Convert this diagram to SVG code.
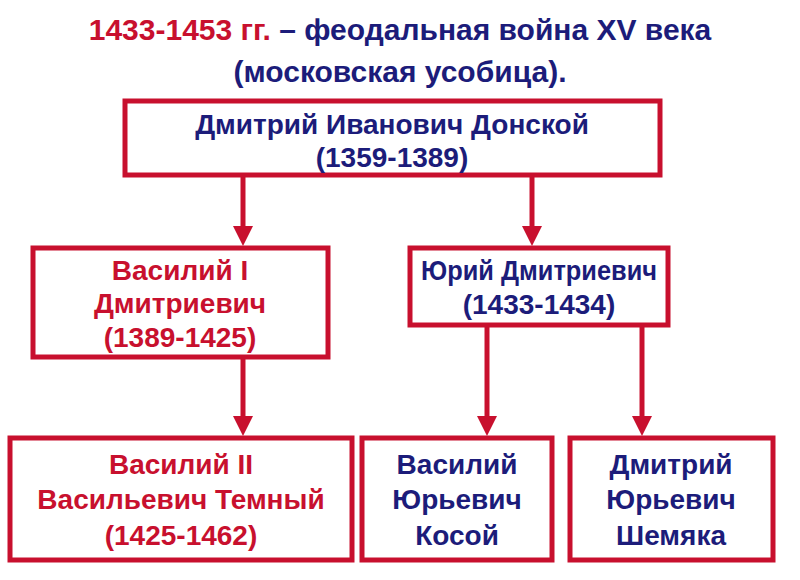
<svg xmlns="http://www.w3.org/2000/svg" width="800" height="580" viewBox="0 0 800 580">
<style>
.b{fill:#fff;stroke:#c8102e;stroke-width:5}
text{font-family:"Liberation Sans",Arial,sans-serif;font-weight:bold;text-anchor:middle}
.t{font-size:30px}
.n{font-size:28px}
.r{fill:#c8102e}
.u{fill:#1c1c7a}
.c{stroke:#c8102e;stroke-width:5;fill:none}
.h{fill:#c8102e}
</style>
<rect width="800" height="580" fill="#fff"/>
<g id="title"><text class="t" x="400" y="40"><tspan class="r">1433-1453 гг.</tspan><tspan class="u"> – феодальная война XV века</tspan></text>
<text class="t u" x="400" y="82">(московская усобица).</text></g>
<g id="connectors">
<line class="c" x1="243" y1="176" x2="243" y2="228"/><polygon class="h" points="233,226 253,226 243,246"/>
<line class="c" x1="532" y1="176" x2="532" y2="228"/><polygon class="h" points="522,226 542,226 532,246"/>
<line class="c" x1="243" y1="358" x2="243" y2="418"/><polygon class="h" points="233,416 253,416 243,436"/>
<line class="c" x1="487" y1="326" x2="487" y2="418"/><polygon class="h" points="477,416 497,416 487,436"/>
<line class="c" x1="642" y1="326" x2="642" y2="418"/><polygon class="h" points="632,416 652,416 642,436"/>
</g>
<g id="donskoy"><rect class="b" x="125" y="101" width="535" height="74"/><text class="n u" x="392" y="134">Дмитрий Иванович Донской</text><text class="n u" x="392" y="167">(1359-1389)</text></g>
<g id="vasily1"><rect class="b" x="33" y="248" width="295" height="109"/><text class="n r" x="180" y="280">Василий I</text><text class="n r" x="180" y="313">Дмитриевич</text><text class="n r" x="180" y="347">(1389-1425)</text></g>
<g id="yury"><rect class="b" x="410" y="248" width="258" height="77"/><text class="n u" x="539" y="280" textLength="236" lengthAdjust="spacingAndGlyphs">Юрий Дмитриевич</text><text class="n u" x="539" y="314">(1433-1434)</text></g>
<g id="vasily2"><rect class="b" x="10" y="438" width="342" height="122"/><text class="n r" x="181" y="474">Василий II</text><text class="n r" x="181" y="509">Васильевич Темный</text><text class="n r" x="181" y="545">(1425-1462)</text></g>
<g id="kosoy"><rect class="b" x="362" y="438" width="190" height="122"/><text class="n u" x="457" y="474">Василий</text><text class="n u" x="457" y="509">Юрьевич</text><text class="n u" x="457" y="545">Косой</text></g>
<g id="shemyaka"><rect class="b" x="570" y="438" width="203" height="122"/><text class="n u" x="671" y="474">Дмитрий</text><text class="n u" x="671" y="509">Юрьевич</text><text class="n u" x="671" y="545">Шемяка</text></g>
</svg>
